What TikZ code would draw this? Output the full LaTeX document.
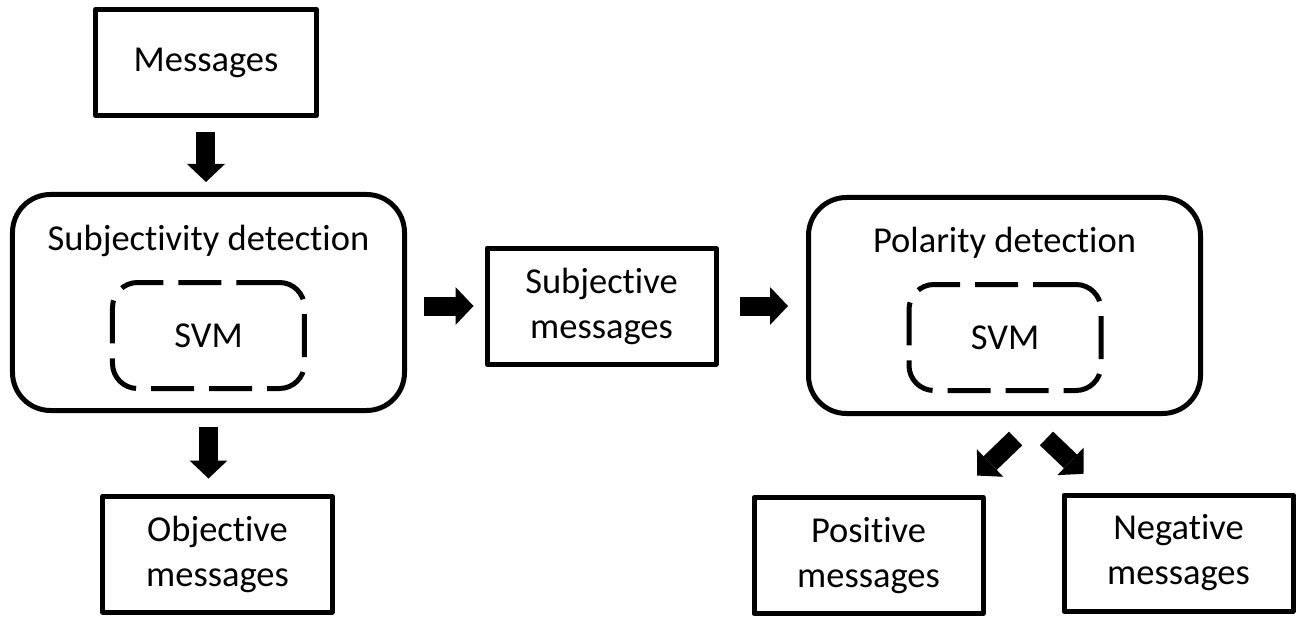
\documentclass[tikz,border=0pt]{standalone}
\usepackage{fontspec}
\setmainfont{Carlito}[Ligatures={NoCommon}]
\usetikzlibrary{arrows.meta, positioning, calc}
\tikzstyle{block} = [draw, rectangle, line width=5pt, line join=round,
    minimum width=229pt, minimum height=116pt, align=center]
\tikzstyle{stage} = [draw, rectangle, line width=5pt, rounded corners=38pt,
    minimum width=392pt, minimum height=216pt]
\tikzstyle{model} = [draw, rectangle, line width=5pt, dash pattern=on 43pt off 15pt,
    rounded corners=25pt, minimum width=192pt, minimum height=106pt]
\tikzstyle{flow} = [line width=19pt, -{Triangle[length=18pt, width=38pt, line width=0pt]}]

\begin{document}
\begin{tikzpicture}[font=\fontsize{36.5}{45}\selectfont]
    \useasboundingbox (-206pt,62.5pt) rectangle (1096pt,-555.5pt);
    \node [block, minimum width=221pt, minimum height=106pt] (msg) {Messages};
    \node [stage, node distance=240pt, below of=msg, xshift=2.5pt] (subj) {};
    \node [node distance=61.5pt, above of=subj] (subjtitle) {Subjectivity detection};
    \node [model, node distance=33pt, below of=subj] (svm1) {SVM};
    \node [block, node distance=251.5pt, below of=subj, xshift=9pt] (obj) {Objective\\messages};
    \node [block, node distance=393pt, right of=subj, yshift=-3.5pt] (subjmsg) {Subjective\\messages};
    \node [stage, node distance=403pt, right of=subjmsg, yshift=0.5pt] (pol) {};
    \node [node distance=62.5pt, above of=pol] (poltitle) {Polarity detection};
    \node [model, node distance=32pt, below of=pol, xshift=0.5pt] (svm2) {SVM};
    \node [block, node distance=250pt, below of=pol, xshift=-136pt] (pos) {Positive\\messages};
    \node [block, node distance=247.5pt, below of=pol, xshift=174pt] (neg) {Negative\\messages};
    \draw [flow, shorten <=14pt, shorten >=10pt] (msg.south) -- (msg.south |- subj.north);
    \draw [flow, shorten <=14pt, shorten >=15pt] (subj.south) -- (subj.south |- obj.north);
    \draw [flow, shorten <=17pt, shorten >=11pt] (subj.east |- subjmsg.west) -- (subjmsg.west);
    \draw [flow, shorten <=21pt, shorten >=18pt] (subjmsg.east) -- (subjmsg.east -| pol.west);
    \draw [flow, shorten <=32.5pt, shorten >=28pt] ($(pol.south)+(34.5pt,0)$) -- ($(pos.north)+(88.5pt,0)$);
    \draw [flow, shorten <=32.5pt, shorten >=27pt] ($(pol.south)+(18.5pt,0)$) -- ($(neg.north)+(-75.5pt,0)$);
\end{tikzpicture}
\end{document}
